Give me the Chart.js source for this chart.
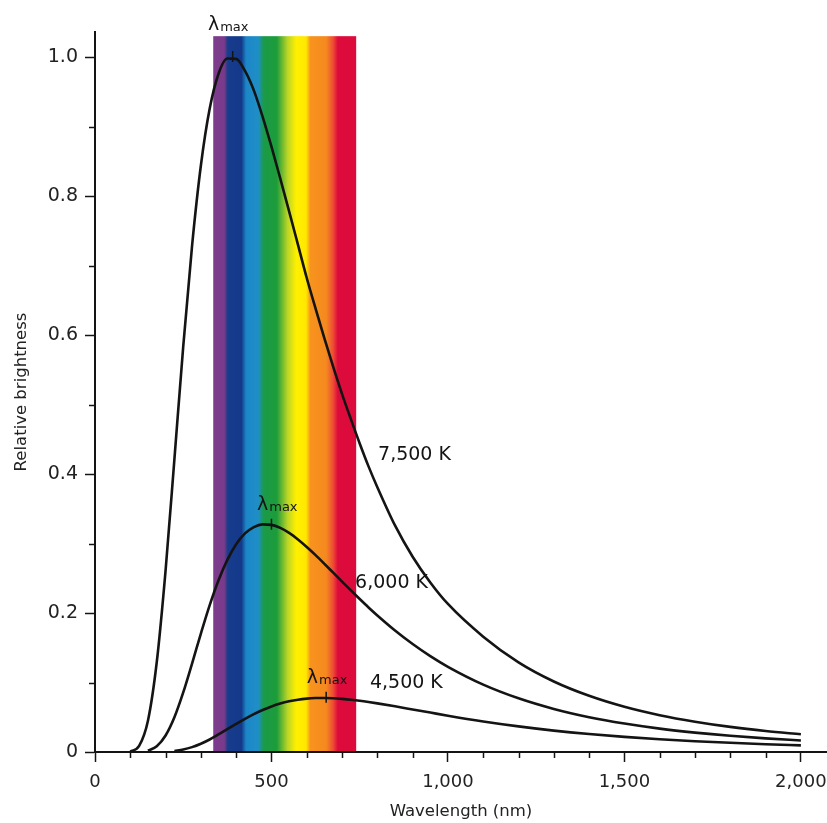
<!DOCTYPE html>
<html>
<head>
<meta charset="utf-8">
<script src="https://cdn.jsdelivr.net/npm/chart.js@4/dist/chart.umd.min.js"></script>
<style>
  html, body { margin: 0; padding: 0; background: #fff; overflow: hidden; }
  canvas { display: block; }
</style>
</head>
<body>
<canvas id="chart" width="827" height="823"></canvas>
<script>
// wavelength samples (nm) shared by the three curves
const wavelengths = [100, 125, 150, 175, 200, 225, 250, 275, 300, 325, 350, 375, 400, 425, 450,
  475, 500, 525, 550, 575, 600, 625, 650, 675, 700, 725, 750, 775, 800, 850, 900, 950,
  1000, 1100, 1200, 1300, 1400, 1500, 1600, 1700, 1800, 1900, 2000];

// relative brightness
const t7500 = [0.0006, 0.0087, 0.045, 0.1295, 0.2615, 0.4214, 0.5837, 0.7284, 0.8439, 0.9258, 0.976, 0.9978, 0.9973, 0.980, 0.952,
  0.914, 0.871, 0.825, 0.778, 0.730, 0.682, 0.638, 0.595, 0.554, 0.515, 0.479, 0.444, 0.411, 0.381, 0.326, 0.281, 0.244,
  0.213, 0.166, 0.129, 0.1015, 0.0809, 0.0651, 0.0530, 0.0436, 0.0361, 0.0302, 0.0255];
const t6000 = [null, null, 0.0018, 0.0084, 0.0238, 0.050, 0.0857, 0.1273, 0.1704, 0.2113, 0.2471, 0.2765, 0.299, 0.3145, 0.3237,
  0.3275, 0.3268, 0.3224, 0.3152, 0.3059, 0.2951, 0.2833, 0.2708, 0.258, 0.2452, 0.2325, 0.2201, 0.208, 0.1965, 0.1749, 0.1554, 0.138,
  0.1226, 0.097, 0.0773, 0.0620, 0.0501, 0.0409, 0.0336, 0.0279, 0.0233, 0.0196, 0.0166];
const t4500 = [null, null, null, null, null, 0.0014, 0.0035, 0.007, 0.0119, 0.018, 0.0252, 0.0328, 0.0404, 0.0478, 0.0546,
  0.0605, 0.0656, 0.0698, 0.073, 0.0753, 0.0768, 0.0776, 0.0778, 0.0774, 0.0765, 0.0753, 0.0738, 0.072, 0.070, 0.0657, 0.0612, 0.0567,
  0.0522, 0.044, 0.0369, 0.0308, 0.0258, 0.0217, 0.0183, 0.0155, 0.0132, 0.0112, 0.0095];

const curveLabels = ['7,500 K', '6,000 K', '4,500 K'];
const curveLabelX = [802, 737, 779];
const curveLabelY = [0.427, 0.243, 0.099];

// lambda max marks: peak position on each curve, and where the label sits
const peakX = [390, 500, 655];
const peakY = [1.0, 0.327, 0.078];
const lambdaLabelX = [320, 459, 600];
const lambdaLabelY = [1.039, 0.348, 0.099];

// visible spectrum band
const bandStart = 335;
const bandEnd = 740;
const bandTop = 1.03;
const bandStops = [335, 366, 376, 415, 428, 462, 478, 515, 545, 570, 598, 610, 655, 675, 688, 740];
const bandColors = ['#7d3c8c', '#7a3a8b', '#183c8c', '#14398a', '#1c86c6', '#1f8fc8', '#1b9a48', '#1d9c3a',
  '#b8d428', '#fff000', '#ffe800', '#f7941d', '#f5891f', '#ee4a35', '#dd0b3b', '#dd0b3b'];

const xTicks = [];
for (let v = 0; v <= 2000; v += 100) xTicks.push(v);
const yTicks = [0, 0.1, 0.2, 0.3, 0.4, 0.5, 0.6, 0.7, 0.8, 0.9, 1.0];

const ink = '#141414';
const fontFamily = '"DejaVu Sans", sans-serif';

function series(values) {
  return wavelengths.map((w, i) => ({ x: w, y: values[i] }));
}

const overlay = {
  id: 'overlay',
  beforeDatasetsDraw(chart) {
    const { ctx, scales: { x, y } } = chart;
    const left = x.getPixelForValue(bandStart);
    const right = x.getPixelForValue(bandEnd);
    const top = y.getPixelForValue(bandTop);
    const bottom = y.getPixelForValue(0) - 1;
    const grad = ctx.createLinearGradient(left, 0, right, 0);
    bandStops.forEach((nm, i) => grad.addColorStop((nm - bandStart) / (bandEnd - bandStart), bandColors[i]));
    ctx.save();
    ctx.fillStyle = grad;
    ctx.fillRect(left, top, right - left, bottom - top);
    ctx.restore();
  },
  afterDraw(chart) {
    const { ctx, scales: { x, y } } = chart;
    const x0 = x.getPixelForValue(0);
    const y0 = y.getPixelForValue(0);
    ctx.save();
    ctx.strokeStyle = ink;
    ctx.lineWidth = 1.5;

    // minor ticks
    xTicks.filter(v => v % 500 !== 0).forEach(v => {
      const px = Math.round(x.getPixelForValue(v)) + 0.5;
      ctx.beginPath(); ctx.moveTo(px, y0); ctx.lineTo(px, y0 + 6); ctx.stroke();
    });
    yTicks.filter((v, i) => i % 2 === 1).forEach(v => {
      const py = Math.round(y.getPixelForValue(v)) + 0.5;
      ctx.beginPath(); ctx.moveTo(x0 - 6, py); ctx.lineTo(x0, py); ctx.stroke();
    });

    // peak marks
    peakX.forEach((nm, i) => {
      const px = x.getPixelForValue(nm);
      const py = y.getPixelForValue(peakY[i]);
      ctx.beginPath(); ctx.moveTo(px, py - 6); ctx.lineTo(px, py + 5); ctx.stroke();
    });

    // curve labels
    ctx.fillStyle = ink;
    ctx.textBaseline = 'middle';
    ctx.textAlign = 'left';
    ctx.font = '19px ' + fontFamily;
    curveLabels.forEach((t, i) => {
      ctx.fillText(t, x.getPixelForValue(curveLabelX[i]), y.getPixelForValue(curveLabelY[i]));
    });

    // lambda max labels
    ctx.textBaseline = 'alphabetic';
    lambdaLabelX.forEach((nm, i) => {
      const px = x.getPixelForValue(nm);
      const py = y.getPixelForValue(lambdaLabelY[i]);
      ctx.font = '19px ' + fontFamily;
      ctx.fillText('λ', px, py);
      const w = ctx.measureText('λ').width;
      ctx.font = '13px ' + fontFamily;
      ctx.fillText('max', px + w + 1, py + 1);
    });
    ctx.restore();
  }
};

new Chart(document.getElementById('chart'), {
  type: 'line',
  data: {
    datasets: [t7500, t6000, t4500].map((vals, i) => ({
      label: curveLabels[i],
      data: series(vals),
      borderColor: ink,
      borderWidth: 2.6,
      pointRadius: 0,
      fill: false,
      cubicInterpolationMode: 'monotone'
    }))
  },
  options: {
    responsive: false,
    animation: false,
    layout: { padding: { top: 32, right: 0, bottom: 0, left: 0 } },
    plugins: { legend: { display: false }, tooltip: { enabled: false } },
    scales: {
      x: {
        type: 'linear',
        min: 0,
        max: 2074,
        afterBuildTicks: scale => { scale.ticks = xTicks.map(v => ({ value: v })); },
        afterFit: scale => { scale.height = 71; scale.paddingLeft = 0; scale.paddingRight = 0; },
        border: { display: true, color: ink, width: 2 },
        grid: {
          drawOnChartArea: false,
          tickLength: 10,
          tickWidth: 1.5,
          tickColor: c => (c.tick && c.tick.value % 500 === 0) ? ink : 'rgba(0,0,0,0)'
        },
        ticks: {
          autoSkip: false,
          maxRotation: 0,
          padding: 10,
          color: '#222',
          font: { family: fontFamily, size: 18 },
          callback: v => v % 500 === 0 ? v.toLocaleString('en-US') : ''
        },
        title: {
          display: true,
          text: 'Wavelength (nm)',
          color: '#222',
          font: { family: fontFamily, size: 16.5 },
          padding: { top: 0, bottom: 1 }
        }
      },
      y: {
        min: 0,
        max: 1.036,
        afterBuildTicks: scale => { scale.ticks = yTicks.map(v => ({ value: v })); },
        afterFit: scale => { scale.width = 95; scale.paddingTop = 0; scale.paddingBottom = 0; },
        border: { display: true, color: ink, width: 2 },
        grid: {
          drawOnChartArea: false,
          tickLength: 10,
          tickWidth: 1.5,
          tickColor: c => (c.index % 2 === 0) ? ink : 'rgba(0,0,0,0)'
        },
        ticks: {
          autoSkip: false,
          padding: 7,
          color: '#222',
          font: { family: fontFamily, size: 19 },
          callback: (v, i) => i % 2 === 0 ? (v === 0 ? '0' : v.toFixed(1)) : ''
        },
        title: {
          display: true,
          text: 'Relative brightness',
          color: '#222',
          font: { family: fontFamily, size: 16.5 },
          padding: { top: 12, bottom: 0 }
        }
      }
    }
  },
  plugins: [overlay]
});
</script>
</body>
</html>
